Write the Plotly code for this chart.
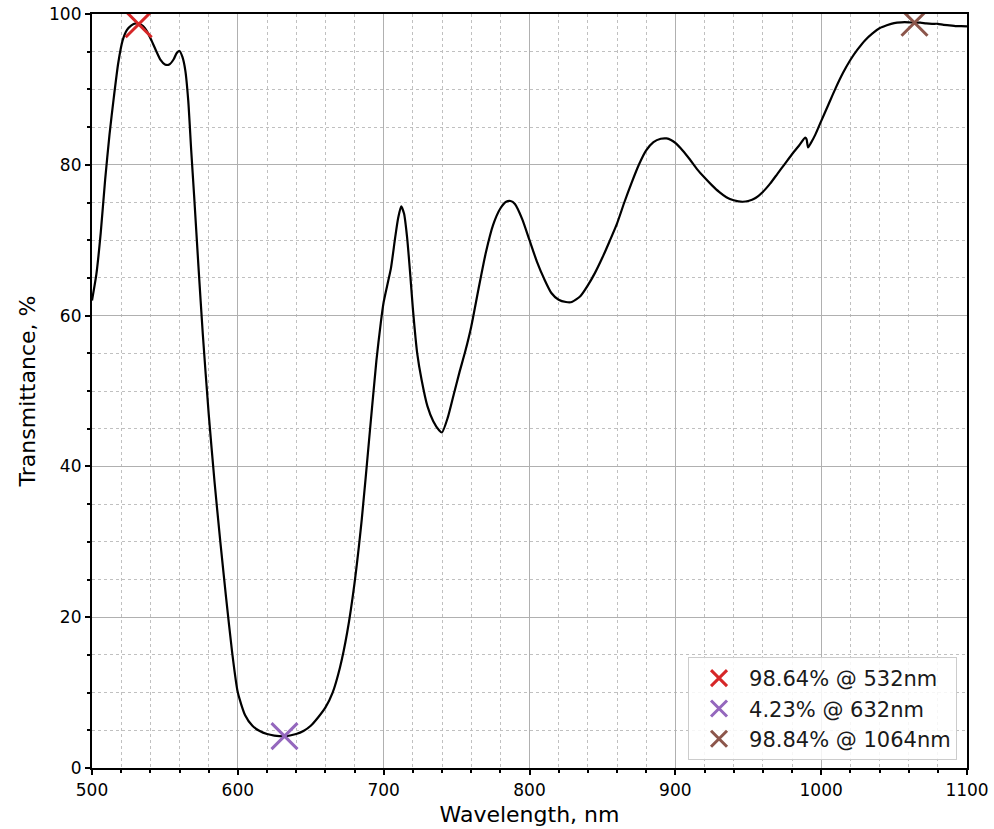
import plotly.graph_objects as go

wavelength = [500, 503, 506, 509, 512, 515, 518, 521, 524, 527, 530, 532, 535, 538, 541, 544, 547,
              550, 553, 556, 558, 560, 562, 564, 566, 568, 570, 573, 576, 580, 584, 588, 592, 596,
              600, 605, 610, 615, 620, 625, 632, 640, 645, 650, 655, 660, 665, 670, 675, 680, 685,
              690, 695, 698, 700, 703, 705, 708, 710, 712, 714, 716, 718, 720, 723, 726, 730, 734,
              738, 740, 744, 748, 752, 756, 760, 765, 770, 775, 780, 784, 787, 790, 795, 800, 805,
              810, 815, 820, 825, 829, 835, 840, 845, 850, 855, 860, 865, 870, 875, 880, 885, 890,
              894, 897, 900, 905, 910, 915, 920, 925, 930, 935, 940, 946, 950, 955, 960, 965, 970,
              975, 980, 985, 989, 990, 991, 993, 996, 1000, 1005, 1010, 1015, 1020, 1025, 1030,
              1035, 1040, 1045, 1050, 1055, 1060, 1064, 1068, 1072, 1076, 1080, 1084, 1088, 1092,
              1096, 1100]
transmittance = [62.0, 65.5, 71.0, 78.0, 84.0, 89.0, 93.5, 96.5, 97.9, 98.5, 98.75, 98.7, 98.4,
                 97.6, 96.4, 95.1, 93.9, 93.3, 93.3, 94.0, 94.8, 95.1, 94.3, 92.5, 88.5, 82.0,
                 76.0, 66.5, 57.5, 47.0, 38.0, 30.0, 22.5, 15.5, 10.0, 7.0, 5.6, 4.9, 4.5, 4.3,
                 4.2, 4.5, 4.9, 5.6, 6.7, 8.0, 10.0, 13.3, 18.0, 24.5, 33.0, 43.5, 54.0, 59.0,
                 61.8, 64.5, 66.3, 70.5, 73.0, 74.5, 73.5, 70.5, 66.0, 61.0, 55.0, 51.5, 48.0,
                 46.0, 44.8, 44.5, 46.5, 49.5, 52.5, 55.3, 58.5, 63.5, 68.3, 72.0, 74.2, 75.1,
                 75.2, 74.8, 72.8, 70.0, 67.2, 64.9, 63.0, 62.1, 61.8, 61.8, 62.6, 64.0, 65.7,
                 67.7, 69.9, 72.2, 75.0, 77.6, 80.0, 81.9, 83.0, 83.45, 83.5, 83.3, 82.9, 81.9,
                 80.7, 79.4, 78.3, 77.3, 76.4, 75.7, 75.3, 75.1, 75.2, 75.6, 76.4, 77.5, 78.8,
                 80.1, 81.4, 82.6, 83.6, 83.4, 82.3, 82.9, 84.0, 85.8, 88.0, 90.2, 92.2, 93.9,
                 95.3, 96.5, 97.4, 98.1, 98.5, 98.8, 98.9, 98.9, 98.84, 98.85, 98.75, 98.7, 98.7,
                 98.55, 98.5, 98.4, 98.4, 98.35]

mark_wl = [532, 632, 1064]
mark_t = [98.64, 4.23, 98.84]
mark_labels = ["98.64% @ 532nm", "4.23% @ 632nm", "98.84% @ 1064nm"]
mark_colors = ["#d62728", "#9467bd", "#8c564b"]

FONT = "DejaVu Sans"

fig = go.Figure()
fig.add_trace(go.Scatter(x=wavelength, y=transmittance, mode="lines",
                         line=dict(color="black", width=2.2, shape="spline", smoothing=0.6),
                         showlegend=False, hoverinfo="x+y"))
for i, (w, t, lab, col) in enumerate(zip(mark_wl, mark_t, mark_labels, mark_colors)):
    fig.add_trace(go.Scatter(x=[w], y=[t], mode="markers", name=lab,
                             legendgroup=f"g{i}",
                             marker=dict(symbol="x-thin", size=26, color=col,
                                         line=dict(color=col, width=3))))

axis_common = dict(
    showline=True, linecolor="black", linewidth=2.2, mirror=True,
    ticks="outside", ticklen=5, tickwidth=1.5, tickcolor="black",
    showgrid=True, gridcolor="#b0b0b0", gridwidth=1.2,
    tickfont=dict(family=FONT, size=17, color="black"),
    zeroline=False, automargin=False,
)

fig.update_xaxes(range=[500, 1100], dtick=100, tick0=500,
                 title=dict(text="Wavelength, nm", font=dict(family=FONT, size=22, color="black"),
                            standoff=8),
                 minor=dict(dtick=20, showgrid=True, gridcolor="#c0c0c0", griddash="dot",
                            gridwidth=1, ticks="outside", ticklen=3, tickcolor="black"),
                 **axis_common)
fig.update_yaxes(range=[0, 100], dtick=20, tick0=0,
                 title=dict(text="Transmittance, %", font=dict(family=FONT, size=22, color="black"),
                            standoff=7),
                 minor=dict(dtick=5, showgrid=True, gridcolor="#c0c0c0", griddash="dot",
                            gridwidth=1, ticks="outside", ticklen=3, tickcolor="black"),
                 **axis_common)

fig.update_layout(
    width=994, height=829,
    margin=dict(l=92, r=27, t=14, b=61),
    plot_bgcolor="white", paper_bgcolor="white",
    font=dict(family=FONT, size=17, color="black"),
    legend=dict(x=0.9886, y=0.0106, xanchor="right", yanchor="bottom",
                bgcolor="rgba(255,255,255,0.85)", bordercolor="#cccccc", borderwidth=1,
                font=dict(family=FONT, size=21, color="#1a1a1a"),
                traceorder="grouped", tracegroupgap=0, itemwidth=50),
)

fig.write_html("out.html")
